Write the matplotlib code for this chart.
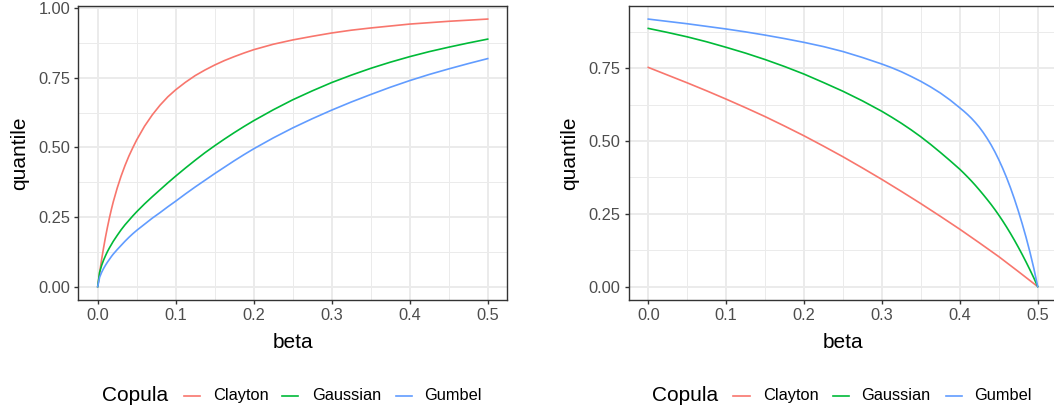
import matplotlib
matplotlib.use("Agg")
import matplotlib.pyplot as plt
from matplotlib.lines import Line2D

plt.rcParams['font.family'] = ['Liberation Sans', 'DejaVu Sans']

# ---------------- data ----------------
series_names = ["Clayton", "Gaussian", "Gumbel"]
series_colors = ["#F8766D", "#00BA38", "#619CFF"]

# left panel
left_beta = [0, 0.0025, 0.005, 0.0075, 0.01, 0.0125, 0.015, 0.0175, 0.02, 0.025,
             0.03, 0.035, 0.04, 0.045, 0.05, 0.06, 0.07, 0.08, 0.09, 0.1,
             0.1125, 0.125, 0.1375, 0.15, 0.1625, 0.175, 0.1875, 0.2,
             0.225, 0.25, 0.275, 0.3, 0.325, 0.35, 0.375, 0.4, 0.425, 0.45, 0.475, 0.5]
left_clayton = [0, 0.051, 0.097, 0.139, 0.178, 0.2135, 0.2465, 0.277, 0.305, 0.354,
                0.397, 0.435, 0.469, 0.499, 0.527, 0.576, 0.617, 0.652, 0.682, 0.707,
                0.734, 0.758, 0.778, 0.796, 0.812, 0.826, 0.839, 0.851,
                0.8705, 0.886, 0.899, 0.911, 0.921, 0.929, 0.936, 0.943, 0.948, 0.953, 0.957, 0.961]
left_gaussian = [0, 0.052, 0.076, 0.095, 0.111, 0.126, 0.139, 0.151, 0.163, 0.184,
                 0.204, 0.222, 0.238, 0.254, 0.269, 0.297, 0.323, 0.348, 0.373, 0.397,
                 0.426, 0.454, 0.481, 0.506, 0.530, 0.553, 0.575, 0.596,
                 0.635, 0.671, 0.703, 0.733, 0.7595, 0.784, 0.806, 0.826, 0.844, 0.860, 0.875, 0.889]
left_gumbel = [0, 0.034, 0.051, 0.065, 0.077, 0.088, 0.098, 0.108, 0.117, 0.133,
               0.148, 0.163, 0.177, 0.190, 0.202, 0.224, 0.246, 0.266, 0.287, 0.307,
               0.333, 0.358, 0.382, 0.406, 0.429, 0.452, 0.474, 0.495,
               0.534, 0.570, 0.603, 0.634, 0.663, 0.690, 0.716, 0.740, 0.762, 0.782, 0.801, 0.819]

# right panel
right_beta = [0, 0.025, 0.05, 0.075, 0.1, 0.125, 0.15, 0.175, 0.2, 0.225,
              0.25, 0.275, 0.3, 0.3125, 0.325, 0.3375, 0.35, 0.3625, 0.375, 0.3875,
              0.4, 0.405, 0.41, 0.415, 0.42, 0.425, 0.43, 0.435, 0.44, 0.445,
              0.45, 0.455, 0.46, 0.465, 0.47, 0.475, 0.48, 0.485, 0.49, 0.495, 0.5]
right_gaussian = [0.887, 0.873, 0.858, 0.841, 0.822, 0.802, 0.780, 0.756, 0.730, 0.701,
                  0.671, 0.638, 0.602, 0.582, 0.561, 0.5385, 0.5145, 0.4885, 0.461, 0.4325,
                  0.403, 0.390, 0.3765, 0.3625, 0.3477, 0.3322, 0.3162, 0.2997, 0.2827, 0.2647,
                  0.2457, 0.2257, 0.2047, 0.1827, 0.1597, 0.1357, 0.1107, 0.0847, 0.0577, 0.0297, 0.0]
right_gumbel = [0.919, 0.911, 0.903, 0.894, 0.885, 0.875, 0.864, 0.852, 0.839, 0.8245,
                0.8075, 0.787, 0.7645, 0.752, 0.738, 0.722, 0.705, 0.686, 0.665, 0.641,
                0.614, 0.603, 0.591, 0.578, 0.5635, 0.5475, 0.5295, 0.5095, 0.4875, 0.463,
                0.436, 0.4065, 0.3745, 0.3395, 0.3015, 0.2605, 0.2165, 0.1695, 0.1185, 0.0625, 0.0]
right_clayton_beta = [0, 0.025, 0.05, 0.075, 0.1, 0.125, 0.15, 0.175, 0.2, 0.225,
                      0.25, 0.275, 0.3, 0.325, 0.35, 0.375, 0.4, 0.425, 0.45, 0.475, 0.5]
right_clayton = [0.753, 0.7265, 0.700, 0.6725, 0.644, 0.6145, 0.584, 0.5515, 0.518, 0.4825,
                 0.446, 0.4075, 0.368, 0.327, 0.285, 0.2415, 0.197, 0.1505, 0.103, 0.052, 0.0]

x_ticks = [0.0, 0.1, 0.2, 0.3, 0.4, 0.5]
x_tick_labels = ["0.0", "0.1", "0.2", "0.3", "0.4", "0.5"]
x_minor = [0.05, 0.15, 0.25, 0.35, 0.45]
left_y_ticks = [0.0, 0.25, 0.5, 0.75, 1.0]
left_y_labels = ["0.00", "0.25", "0.50", "0.75", "1.00"]
left_y_minor = [0.125, 0.375, 0.625, 0.875]
right_y_ticks = [0.0, 0.25, 0.5, 0.75]
right_y_labels = ["0.00", "0.25", "0.50", "0.75"]
right_y_minor = [0.125, 0.375, 0.625, 0.875]

x_title = "beta"
y_title = "quantile"
legend_title = "Copula"

# ---------------- figure ----------------
W, H = 1054, 411
fig = plt.figure(figsize=(W / 100, H / 100), dpi=100)
fig.patch.set_facecolor("white")


def px_rect(x0, y0, x1, y1):
    return [x0 / W, (H - y1) / H, (x1 - x0) / W, (y1 - y0) / H]


axL = fig.add_axes(px_rect(78.2, 5.7, 507.2, 300.0))
axR = fig.add_axes(px_rect(628.8, 5.7, 1057.2, 300.0))


def style(ax, yt, ylab, ymin, ylim):
    ax.set_facecolor("white")
    for sp in ax.spines.values():
        sp.set_color("#333333")
        sp.set_linewidth(1.0)
    ax.set_xlim(-0.025, 0.525)
    ax.set_ylim(*ylim)
    ax.set_xticks(x_ticks)
    ax.set_xticklabels(x_tick_labels)
    ax.set_xticks(x_minor, minor=True)
    ax.set_yticks(yt)
    ax.set_yticklabels(ylab)
    ax.set_yticks(ymin, minor=True)
    ax.grid(which="major", color="#EBEBEB", linewidth=1.4)
    ax.grid(which="minor", color="#EBEBEB", linewidth=0.7)
    ax.set_axisbelow(True)
    ax.tick_params(which="minor", length=0)
    ax.tick_params(which="major", length=2.8, width=1.0, color="#333333",
                   labelcolor="#4D4D4D", labelsize=11.8, pad=3)
    ax.set_xlabel(x_title, fontsize=15, color="black")
    ax.xaxis.label.set_va("center")
    ax.xaxis.set_label_coords(0.5, -0.143)
    ax.set_ylabel(y_title, fontsize=15, color="black")
    ax.yaxis.label.set_va("center")
    ax.yaxis.set_label_coords(-0.137, 0.5)


style(axL, left_y_ticks, left_y_labels, left_y_minor, (-0.048, 1.009))
style(axR, right_y_ticks, right_y_labels, right_y_minor, (-0.046, 0.965))

left_data = [left_clayton, left_gaussian, left_gumbel]
right_data = [(right_clayton_beta, right_clayton),
              (right_beta, right_gaussian),
              (right_beta, right_gumbel)]
for name, col, yl, (xr, yr) in zip(series_names, series_colors, left_data, right_data):
    axL.plot(left_beta, yl, color=col, linewidth=1.2, label=name,
             solid_joinstyle="round")
    axR.plot(xr, yr, color=col, linewidth=1.2, label=name,
             solid_joinstyle="round")

# ---------------- legends (horizontal, below each panel) ----------------
leg_y = 395.6
legend_layouts = [
    # title x, [(key x0, key x1, text x), ...]
    (102.0, [(184.0, 200.0, 213.0), (282.0, 298.0, 312.0), (396.0, 412.0, 424.0)]),
    (652.0, [(733.0, 750.0, 763.0), (832.5, 848.5, 861.5), (945.5, 962.0, 974.5)]),
]
fy = (H - leg_y) / H
for tx, items in legend_layouts:
    fig.text(tx / W, fy, legend_title, fontsize=15, color="black",
             ha="left", va="center")
    for (k0, k1, lx), name, col in zip(items, series_names, series_colors):
        fig.add_artist(Line2D([k0 / W, k1 / W], [fy, fy], color=col,
                              linewidth=1.2, transform=fig.transFigure))
        fig.text(lx / W, fy, name, fontsize=11.8, color="black",
                 ha="left", va="center")

fig.savefig("out.png", dpi=100)
